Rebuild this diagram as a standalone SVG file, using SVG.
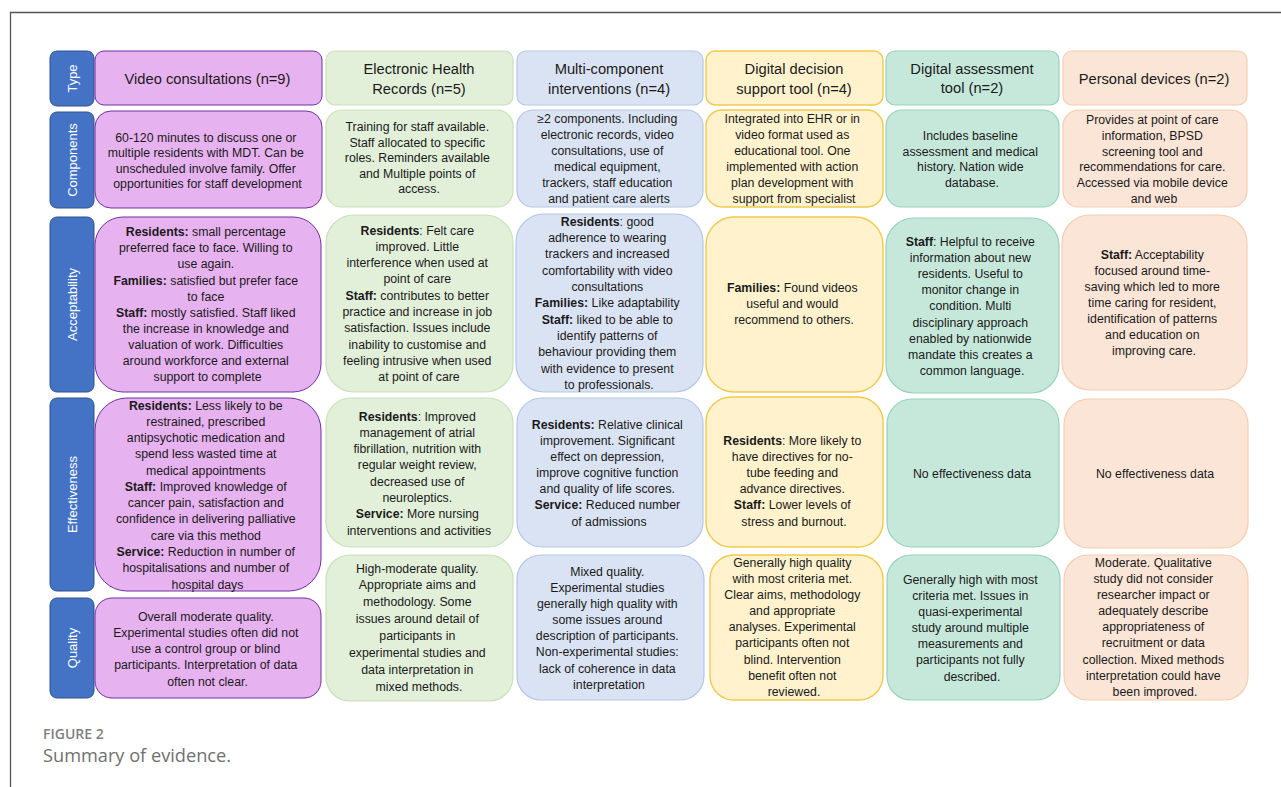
<svg xmlns="http://www.w3.org/2000/svg" width="1281" height="787" viewBox="0 0 1281 787">
<style>
  .lbl rect{fill:#4472C4;stroke:#2F528F;stroke-width:1}
  .lbl text{fill:#ffffff;font-family:"Liberation Sans",Arial,sans-serif;font-size:13px;text-anchor:middle}
  .vid{fill:#E7B2F0;stroke:#7030A0;stroke-width:1}
  .ehr{fill:#E2EFD9;stroke:#C9E0BA;stroke-width:1.2}
  .mul{fill:#DAE3F3;stroke:#B4C7E7;stroke-width:1.2}
  .dds{fill:#FFF2CC;stroke:#F2C94C;stroke-width:1.4}
  .das{fill:#C6E8DA;stroke:#96D3BB;stroke-width:1.2}
  .pdv{fill:#FBE5D6;stroke:#F6CDB0;stroke-width:1.2}
  .hd{fill:#1a1a1a;font-family:"Liberation Sans",Arial,sans-serif;font-size:14.7px;text-anchor:middle}
  .bd{fill:#1a1a1a;font-family:"Liberation Sans",Arial,sans-serif;font-size:12.3px;text-anchor:middle}
  .b{font-weight:bold}
</style>
<rect x="0" y="0" width="1281" height="787" fill="#ffffff"/>
<path d="M10.5,787 V12.5 H1281" fill="none" stroke="#555555" stroke-width="1.3"/>

<!-- Row labels -->
<g id="label-type" class="lbl"><rect x="50" y="51" width="44" height="55" rx="7"/><text transform="translate(76.5,78.5) rotate(-90)">Type</text></g>
<g id="label-components" class="lbl"><rect x="50" y="112" width="44" height="96" rx="7"/><text transform="translate(76.5,160) rotate(-90)">Components</text></g>
<g id="label-acceptability" class="lbl"><rect x="50" y="217" width="44" height="175" rx="7"/><text transform="translate(76.5,304.5) rotate(-90)">Acceptability</text></g>
<g id="label-effectiveness" class="lbl"><rect x="50" y="398" width="44" height="193" rx="7"/><text transform="translate(76.5,494.5) rotate(-90)">Effectiveness</text></g>
<g id="label-quality" class="lbl"><rect x="50" y="598" width="44" height="100" rx="7"/><text transform="translate(76.5,648) rotate(-90)">Quality</text></g>

<!-- Type row -->
<g id="type-video"><rect class="vid" x="95" y="51" width="227" height="54" rx="9"/><text class="hd" x="207.5" y="84">Video consultations (n=9)</text></g>
<g id="type-ehr"><rect class="ehr" x="326" y="51" width="187" height="54" rx="9"/><text class="hd"><tspan x="419" y="74">Electronic Health</tspan><tspan x="419" y="93.5">Records (n=5)</tspan></text></g>
<g id="type-multi"><rect class="mul" x="517" y="51" width="186" height="54" rx="9"/><text class="hd"><tspan x="609" y="74">Multi-component</tspan><tspan x="609" y="93.5">interventions (n=4)</tspan></text></g>
<g id="type-dds"><rect class="dds" x="706" y="51" width="177" height="54" rx="9"/><text class="hd"><tspan x="794" y="74">Digital decision</tspan><tspan x="794" y="93.5">support tool (n=4)</tspan></text></g>
<g id="type-da"><rect class="das" x="886" y="51" width="173" height="54" rx="9"/><text class="hd"><tspan x="972" y="73.5">Digital assessment</tspan><tspan x="972" y="93">tool (n=2)</tspan></text></g>
<g id="type-pd"><rect class="pdv" x="1063" y="51" width="184" height="54" rx="9"/><text class="hd" x="1154" y="83.5">Personal devices (n=2)</text></g>

<!-- Components row -->
<g id="comp-video"><rect class="vid" x="95" y="111" width="227" height="97" rx="16"/><text class="bd">
<tspan x="207.5" y="141.5">60-120 minutes to discuss one or</tspan>
<tspan x="207.5" y="157">multiple residents with MDT. Can be</tspan>
<tspan x="207.5" y="172.5">unscheduled involve family. Offer</tspan>
<tspan x="207.5" y="188">opportunities for staff development</tspan></text></g>
<g id="comp-ehr"><rect class="ehr" x="326" y="110" width="187" height="97" rx="16"/><text class="bd">
<tspan x="419" y="131">Training for staff available.</tspan>
<tspan x="419" y="146.5">Staff allocated to specific</tspan>
<tspan x="419" y="162">roles. Reminders available</tspan>
<tspan x="419" y="177.5">and Multiple points of</tspan>
<tspan x="419" y="193">access.</tspan></text></g>
<g id="comp-multi"><rect class="mul" x="517" y="110" width="186" height="97" rx="16"/><text class="bd">
<tspan x="609" y="122.5">≥2 components. Including</tspan>
<tspan x="609" y="138.5">electronic records, video</tspan>
<tspan x="609" y="154.5">consultations, use of</tspan>
<tspan x="609" y="170.5">medical equipment,</tspan>
<tspan x="609" y="186.5">trackers, staff education</tspan>
<tspan x="609" y="202.5">and patient care alerts</tspan></text></g>
<g id="comp-dds"><rect class="dds" x="706" y="110" width="177" height="97" rx="16"/><text class="bd">
<tspan x="794" y="122.5">Integrated into EHR or in</tspan>
<tspan x="794" y="138.5">video format used as</tspan>
<tspan x="794" y="154.5">educational tool. One</tspan>
<tspan x="794" y="170.5">implemented with action</tspan>
<tspan x="794" y="186.5">plan development with</tspan>
<tspan x="794" y="202.5">support from specialist</tspan></text></g>
<g id="comp-da"><rect class="das" x="886" y="110" width="173" height="97" rx="16"/><text class="bd">
<tspan x="972" y="139.5">Includes baseline</tspan>
<tspan x="972" y="155.5">assessment and medical</tspan>
<tspan x="972" y="171">history. Nation wide</tspan>
<tspan x="972" y="187">database.</tspan></text></g>
<g id="comp-pd"><rect class="pdv" x="1063" y="110" width="184" height="97" rx="16"/><text class="bd">
<tspan x="1154" y="123.5">Provides at point of care</tspan>
<tspan x="1154" y="139.5">information, BPSD</tspan>
<tspan x="1154" y="155.5">screening tool and</tspan>
<tspan x="1154" y="171">recommendations for care.</tspan>
<tspan x="1154" y="187">Accessed via mobile device</tspan>
<tspan x="1154" y="203">and web</tspan></text></g>

<!-- Acceptability row -->
<g id="acc-video"><rect class="vid" x="95" y="217" width="226" height="175" rx="28"/><text class="bd">
<tspan x="207.5" y="236"><tspan class="b">Residents:</tspan> small percentage</tspan>
<tspan x="207.5" y="252.2">preferred face to face. Willing to</tspan>
<tspan x="207.5" y="268.3">use again.</tspan>
<tspan x="207.5" y="284.5"><tspan class="b">Families:</tspan> satisfied but prefer face</tspan>
<tspan x="207.5" y="300.6">to face</tspan>
<tspan x="207.5" y="316.8"><tspan class="b">Staff:</tspan> mostly satisfied. Staff liked</tspan>
<tspan x="207.5" y="332.9">the increase in knowledge and</tspan>
<tspan x="207.5" y="349">valuation of work. Difficulties</tspan>
<tspan x="207.5" y="365.2">around workforce and external</tspan>
<tspan x="207.5" y="381.4">support to complete</tspan></text></g>
<g id="acc-ehr"><rect class="ehr" x="326" y="215" width="187" height="177" rx="28"/><text class="bd">
<tspan x="419" y="234.5"><tspan class="b">Residents</tspan>: Felt care</tspan>
<tspan x="419" y="250.8">improved. Little</tspan>
<tspan x="419" y="267">interference when used at</tspan>
<tspan x="419" y="283.3">point of care</tspan>
<tspan x="419" y="299.6"><tspan class="b">Staff:</tspan> contributes to better</tspan>
<tspan x="419" y="316">practice and increase in job</tspan>
<tspan x="419" y="332.2">satisfaction. Issues include</tspan>
<tspan x="419" y="348.5">inability to customise and</tspan>
<tspan x="419" y="364.8">feeling intrusive when used</tspan>
<tspan x="419" y="381">at point of care</tspan></text></g>
<g id="acc-multi"><rect class="mul" x="516" y="214" width="187" height="178" rx="28"/><text class="bd">
<tspan x="609" y="225.5"><tspan class="b">Residents</tspan>: good</tspan>
<tspan x="609" y="241.8">adherence to wearing</tspan>
<tspan x="609" y="258.2">trackers and increased</tspan>
<tspan x="609" y="274.5">comfortability with video</tspan>
<tspan x="609" y="290.8">consultations</tspan>
<tspan x="609" y="307.2"><tspan class="b">Families:</tspan> Like adaptability</tspan>
<tspan x="609" y="323.5"><tspan class="b">Staff:</tspan> liked to be able to</tspan>
<tspan x="609" y="339.8">identify patterns of</tspan>
<tspan x="609" y="356.1">behaviour providing them</tspan>
<tspan x="609" y="372.5">with evidence to present</tspan>
<tspan x="609" y="388.8">to professionals.</tspan></text></g>
<g id="acc-dds"><rect class="dds" x="706" y="217" width="177" height="175" rx="28"/><text class="bd">
<tspan x="794" y="292"><tspan class="b">Families:</tspan> Found videos</tspan>
<tspan x="794" y="308.2">useful and would</tspan>
<tspan x="794" y="324.4">recommend to others.</tspan></text></g>
<g id="acc-da"><rect class="das" x="886" y="218" width="173" height="175" rx="28"/><text class="bd">
<tspan x="972" y="245.5"><tspan class="b">Staff</tspan>: Helpful to receive</tspan>
<tspan x="972" y="261.7">information about new</tspan>
<tspan x="972" y="277.9">residents. Useful to</tspan>
<tspan x="972" y="294.1">monitor change in</tspan>
<tspan x="972" y="310.3">condition. Multi</tspan>
<tspan x="972" y="326.5">disciplinary approach</tspan>
<tspan x="972" y="342.7">enabled by nationwide</tspan>
<tspan x="972" y="358.9">mandate this creates a</tspan>
<tspan x="972" y="375.1">common language.</tspan></text></g>
<g id="acc-pd"><rect class="pdv" x="1062" y="215" width="185" height="175" rx="28"/><text class="bd">
<tspan x="1154" y="258.5"><tspan class="b">Staff:</tspan> Acceptability</tspan>
<tspan x="1154" y="274.6">focused around time-</tspan>
<tspan x="1154" y="290.6">saving which led to more</tspan>
<tspan x="1154" y="306.7">time caring for resident,</tspan>
<tspan x="1154" y="322.7">identification of patterns</tspan>
<tspan x="1154" y="338.8">and education on</tspan>
<tspan x="1154" y="354.8">improving care.</tspan></text></g>

<!-- Effectiveness row -->
<g id="eff-video"><rect class="vid" x="95" y="398" width="226" height="193" rx="32"/><text class="bd">
<tspan x="207.5" y="409.5"><tspan class="b">Residents:</tspan> Less likely to be</tspan>
<tspan x="207.5" y="425.8">restrained, prescribed</tspan>
<tspan x="207.5" y="442">antipsychotic medication and</tspan>
<tspan x="207.5" y="458.3">spend less wasted time at</tspan>
<tspan x="207.5" y="474.6">medical appointments</tspan>
<tspan x="207.5" y="490.9"><tspan class="b">Staff:</tspan> Improved knowledge of</tspan>
<tspan x="207.5" y="507.1">cancer pain, satisfaction and</tspan>
<tspan x="207.5" y="523.4">confidence in delivering palliative</tspan>
<tspan x="207.5" y="539.7">care via this method</tspan>
<tspan x="207.5" y="556"><tspan class="b">Service:</tspan> Reduction in number of</tspan>
<tspan x="207.5" y="572.2">hospitalisations and number of</tspan>
<tspan x="207.5" y="588.5">hospital days</tspan></text></g>
<g id="eff-ehr"><rect class="ehr" x="326" y="398" width="187" height="149" rx="25"/><text class="bd">
<tspan x="419" y="420.5"><tspan class="b">Residents</tspan>: Improved</tspan>
<tspan x="419" y="436.8">management of atrial</tspan>
<tspan x="419" y="453.1">fibrillation, nutrition with</tspan>
<tspan x="419" y="469.4">regular weight review,</tspan>
<tspan x="419" y="485.7">decreased use of</tspan>
<tspan x="419" y="502">neuroleptics.</tspan>
<tspan x="419" y="518.3"><tspan class="b">Service:</tspan> More nursing</tspan>
<tspan x="419" y="534.6">interventions and activities</tspan></text></g>
<g id="eff-multi"><rect class="mul" x="517" y="398" width="186" height="149" rx="25"/><text class="bd">
<tspan x="609" y="428.5"><tspan class="b">Residents:</tspan> Relative clinical</tspan>
<tspan x="609" y="444.7">improvement. Significant</tspan>
<tspan x="609" y="460.8">effect on depression,</tspan>
<tspan x="609" y="477">improve cognitive function</tspan>
<tspan x="609" y="493.2">and quality of life scores.</tspan>
<tspan x="609" y="509.3"><tspan class="b">Service:</tspan> Reduced number</tspan>
<tspan x="609" y="525.5">of admissions</tspan></text></g>
<g id="eff-dds"><rect class="dds" x="706" y="397" width="177" height="150" rx="25"/><text class="bd">
<tspan x="794" y="444.5"><tspan class="b">Residents</tspan>: More likely to</tspan>
<tspan x="794" y="460.7">have directives for no-</tspan>
<tspan x="794" y="476.9">tube feeding and</tspan>
<tspan x="794" y="493.1">advance directives.</tspan>
<tspan x="794" y="509.3"><tspan class="b">Staff:</tspan> Lower levels of</tspan>
<tspan x="794" y="525.5">stress and burnout.</tspan></text></g>
<g id="eff-da"><rect class="das" x="887" y="399" width="172" height="148" rx="25"/><text class="bd" x="972" y="477.5">No effectiveness data</text></g>
<g id="eff-pd"><rect class="pdv" x="1064" y="399" width="184" height="149" rx="25"/><text class="bd" x="1155" y="477.5">No effectiveness data</text></g>

<!-- Quality row -->
<g id="qual-video"><rect class="vid" x="95" y="598" width="226" height="100" rx="17"/><text class="bd">
<tspan x="207.5" y="620.5">Overall moderate quality.</tspan>
<tspan x="207.5" y="636.8">Experimental studies often did not</tspan>
<tspan x="207.5" y="653">use a control group or blind</tspan>
<tspan x="207.5" y="669.3">participants. Interpretation of data</tspan>
<tspan x="207.5" y="685.5">often not clear.</tspan></text></g>
<g id="qual-ehr"><rect class="ehr" x="326" y="555" width="187" height="146" rx="24"/><text class="bd">
<tspan x="419" y="572.5">High-moderate quality.</tspan>
<tspan x="419" y="589.4">Appropriate aims and</tspan>
<tspan x="419" y="606.3">methodology. Some</tspan>
<tspan x="419" y="623.2">issues around detail of</tspan>
<tspan x="419" y="640.1">participants in</tspan>
<tspan x="419" y="657">experimental studies and</tspan>
<tspan x="419" y="673.9">data interpretation in</tspan>
<tspan x="419" y="690.8">mixed methods.</tspan></text></g>
<g id="qual-multi"><rect class="mul" x="517" y="555" width="187" height="145" rx="24"/><text class="bd">
<tspan x="609" y="575.5">Mixed quality.</tspan>
<tspan x="609" y="591.7">Experimental studies</tspan>
<tspan x="609" y="607.9">generally high quality with</tspan>
<tspan x="609" y="624.1">some issues around</tspan>
<tspan x="609" y="640.3">description of participants.</tspan>
<tspan x="609" y="656.4">Non-experimental studies:</tspan>
<tspan x="609" y="672.6">lack of coherence in data</tspan>
<tspan x="609" y="688.8">interpretation</tspan></text></g>
<g id="qual-dds"><rect class="dds" x="710" y="555" width="173" height="145" rx="24"/><text class="bd">
<tspan x="794" y="566.5">Generally high quality</tspan>
<tspan x="794" y="582.7">with most criteria met.</tspan>
<tspan x="794" y="598.8">Clear aims, methodology</tspan>
<tspan x="794" y="615">and appropriate</tspan>
<tspan x="794" y="631.2">analyses. Experimental</tspan>
<tspan x="794" y="647.4">participants often not</tspan>
<tspan x="794" y="663.5">blind. Intervention</tspan>
<tspan x="794" y="679.7">benefit often not</tspan>
<tspan x="794" y="695.9">reviewed.</tspan></text></g>
<g id="qual-da"><rect class="das" x="887" y="555" width="173" height="145" rx="24"/><text class="bd">
<tspan x="972" y="583.5">Generally high with most</tspan>
<tspan x="972" y="599.7">criteria met. Issues in</tspan>
<tspan x="972" y="615.8">quasi-experimental</tspan>
<tspan x="972" y="632">study around multiple</tspan>
<tspan x="972" y="648.2">measurements and</tspan>
<tspan x="972" y="664.4">participants not fully</tspan>
<tspan x="972" y="680.5">described.</tspan></text></g>
<g id="qual-pd"><rect class="pdv" x="1064" y="555" width="184" height="145" rx="24"/><text class="bd">
<tspan x="1155" y="566.5">Moderate. Qualitative</tspan>
<tspan x="1155" y="582.7">study did not consider</tspan>
<tspan x="1155" y="598.8">researcher impact or</tspan>
<tspan x="1155" y="615">adequately describe</tspan>
<tspan x="1155" y="631.2">appropriateness of</tspan>
<tspan x="1155" y="647.4">recruitment or data</tspan>
<tspan x="1155" y="663.5">collection. Mixed methods</tspan>
<tspan x="1155" y="679.7">interpretation could have</tspan>
<tspan x="1155" y="695.9">been improved.</tspan></text></g>

<g id="connectors"></g>

<g id="caption">
<text x="43" y="739" font-family="'Open Sans',sans-serif" font-size="14px" font-weight="600" fill="#7f7f7f">FIGURE 2</text>
<text x="43" y="762" font-family="'Open Sans',sans-serif" font-size="18.2px" fill="#707070">Summary of evidence.</text>
</g>
</svg>
